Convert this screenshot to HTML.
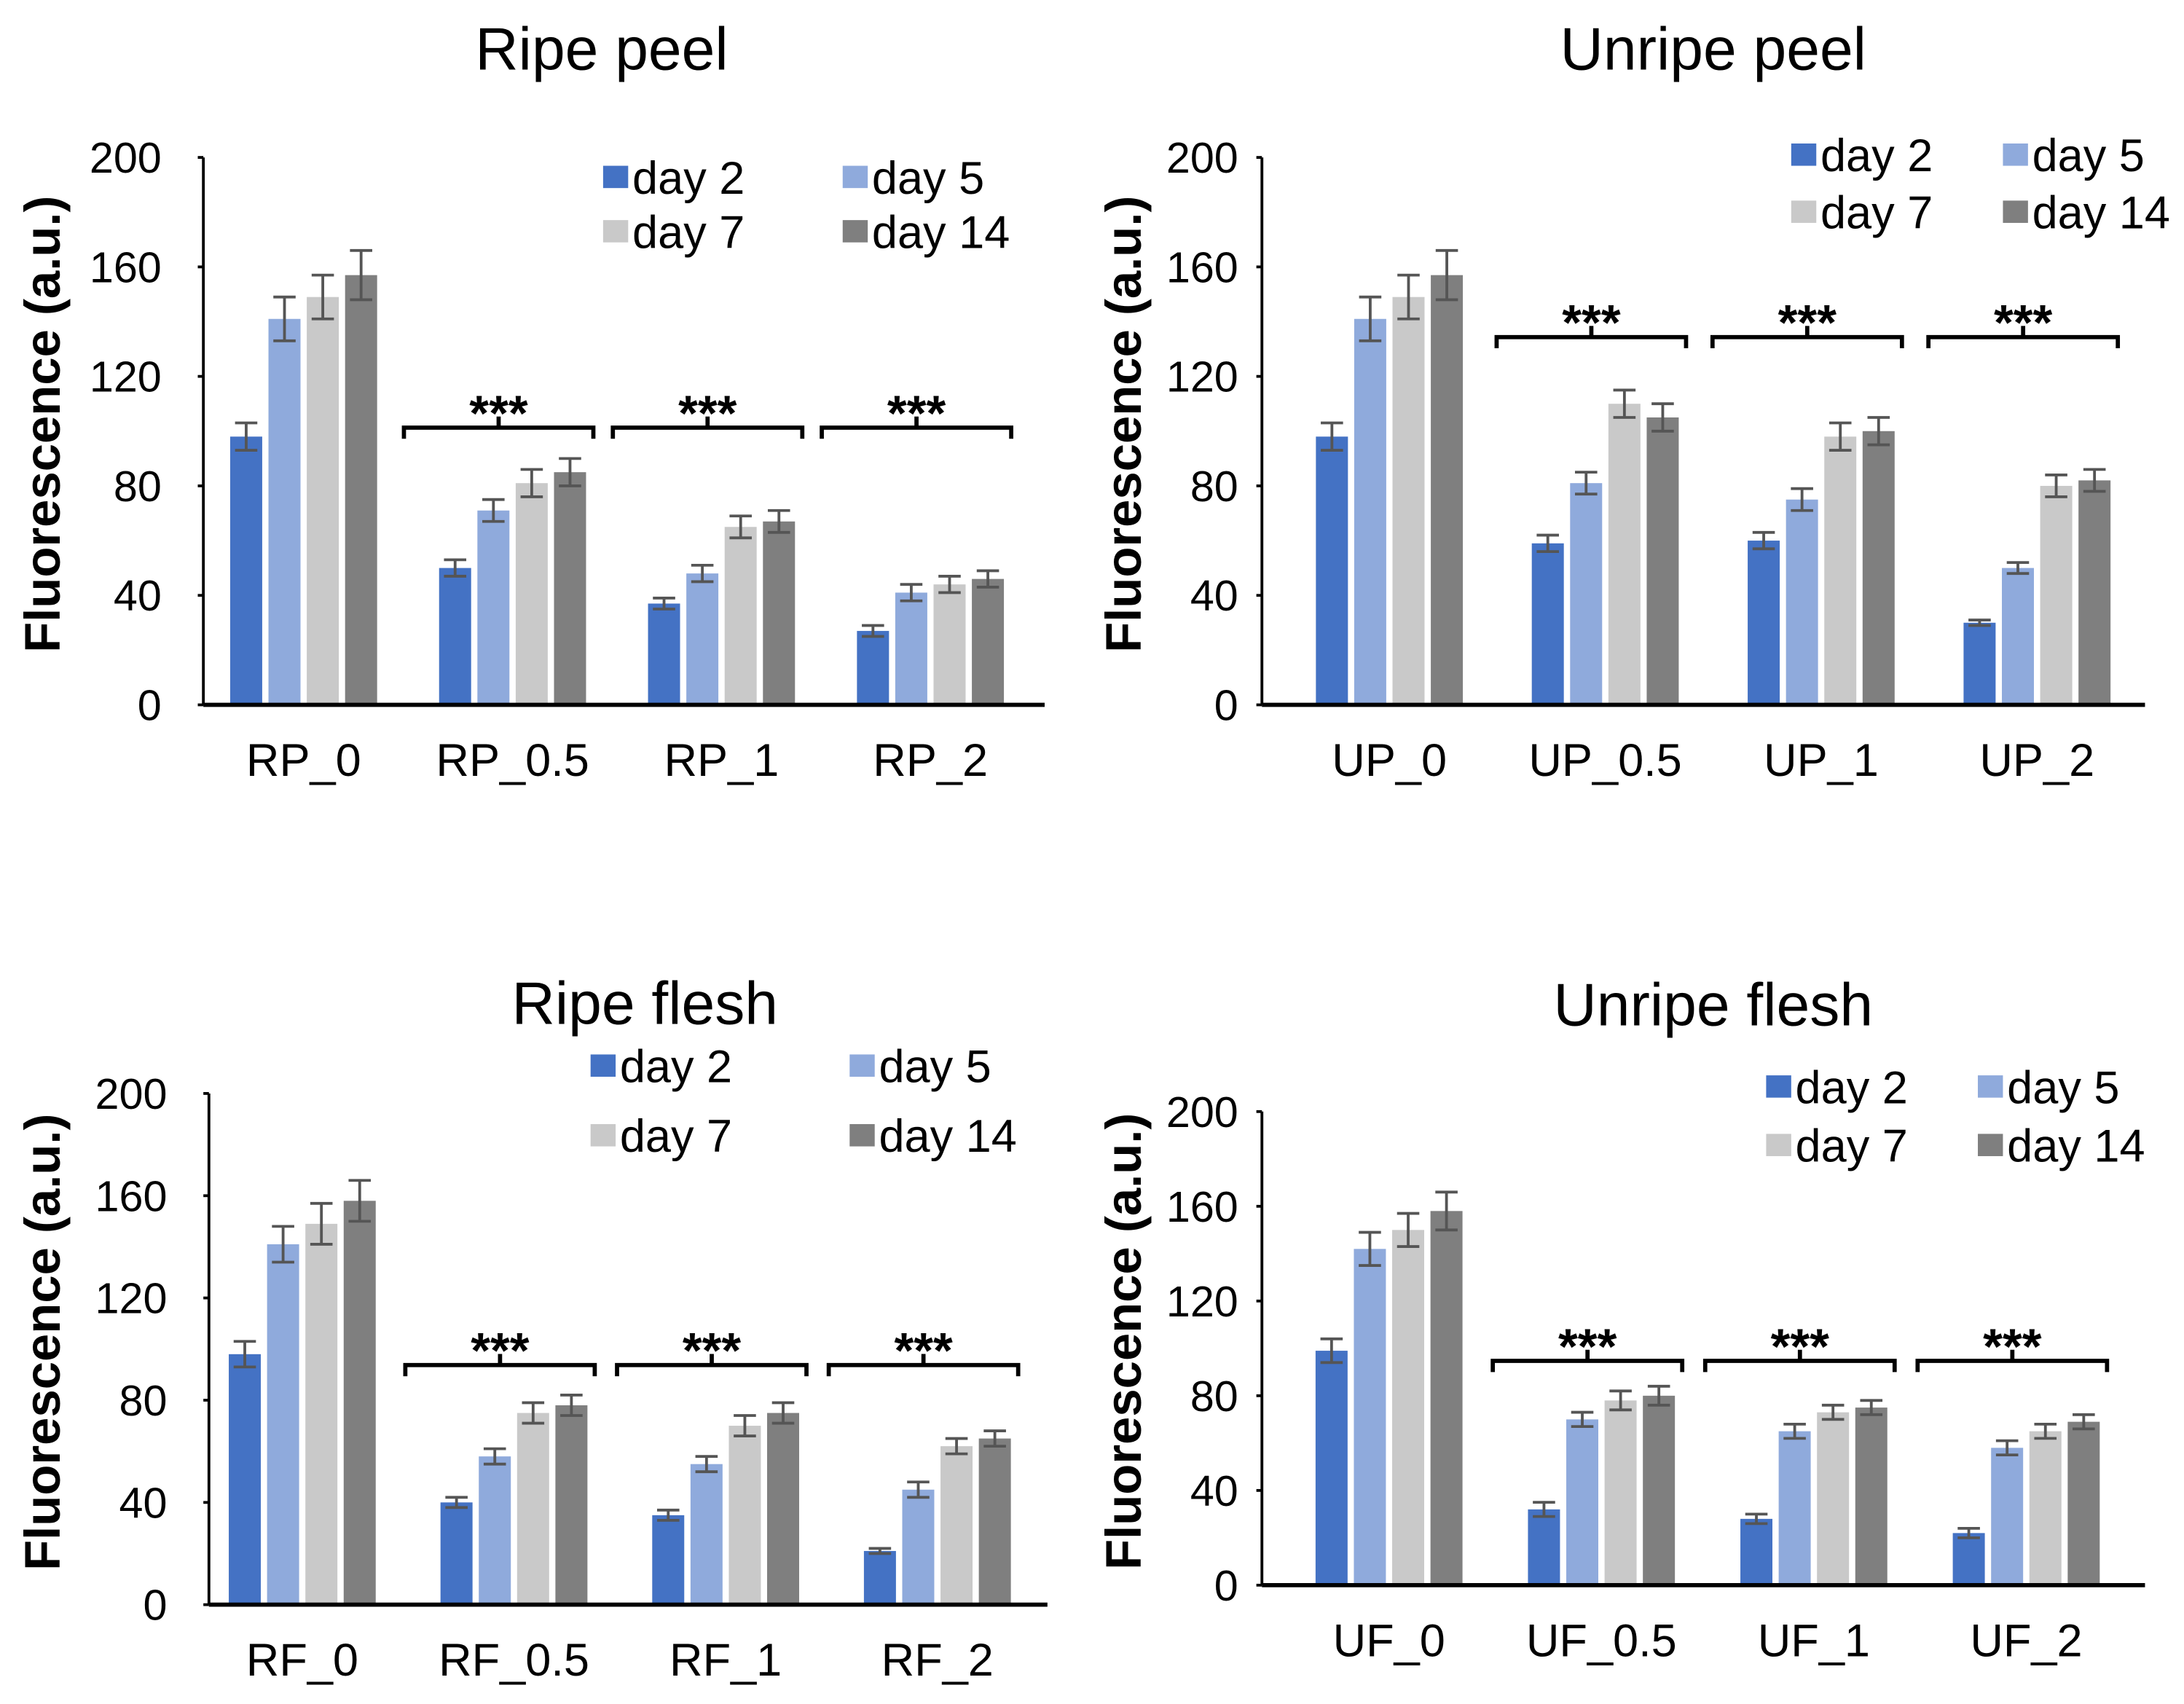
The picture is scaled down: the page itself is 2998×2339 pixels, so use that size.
<!DOCTYPE html>
<html><head><meta charset="utf-8"><style>
html,body{margin:0;padding:0;background:#fff;}
svg{display:block;font-family:"Liberation Sans",Arial,sans-serif;}
</style></head><body>
<svg id="chart" width="2998" height="2339" viewBox="0 0 1568 1223.3" xmlns="http://www.w3.org/2000/svg"></svg>
<script>
const seriesNames = ["day 2","day 5","day 7","day 14"];
const colors = ["#4472C4","#8FAADC","#C9C9C9","#7F7F7F"];
const yTicks = [0,40,80,120,160,200];
const rpCats = ["RP_0","RP_0.5","RP_1","RP_2"];
const rpVals = [[98,141,149,157],[50,71,81,85],[37,48,65,67],[27,41,44,46]];
const rpErr = [[5,8,8,9],[3,4,5,5],[2,3,4,4],[2,3,3,3]];
const upCats = ["UP_0","UP_0.5","UP_1","UP_2"];
const upVals = [[98,141,149,157],[59,81,110,105],[60,75,98,100],[30,50,80,82]];
const upErr = [[5,8,8,9],[3,4,5,5],[3,4,5,5],[1,2,4,4]];
const rfCats = ["RF_0","RF_0.5","RF_1","RF_2"];
const rfVals = [[98,141,149,158],[40,58,75,78],[35,55,70,75],[21,45,62,65]];
const rfErr = [[5,7,8,8],[2,3,4,4],[2,3,4,4],[1,3,3,3]];
const ufCats = ["UF_0","UF_0.5","UF_1","UF_2"];
const ufVals = [[99,142,150,158],[32,70,78,80],[28,65,73,75],[22,58,65,69]];
const ufErr = [[5,7,7,8],[3,3,4,4],[2,3,3,3],[2,3,3,3]];

const NS="http://www.w3.org/2000/svg";
const svg=document.getElementById('chart');
function mk(tag,attrs,parent,text){const e=document.createElementNS(NS,tag);for(const k in attrs)e.setAttribute(k,attrs[k]);if(text!==undefined)e.textContent=text;(parent||svg).appendChild(e);return e;}

const panels=[
 {key:"ripe-peel",title:"Ripe peel",tx:432,ty:50,cats:rpCats,vals:rpVals,err:rpErr,ax:146,axEnd:750,y0:506,y200:113,gs:143,gw:150,brY:307,catY:557,titleX:30,tickOff:30,
  leg:[[442,127],[614,127],[442,166],[614,166]]},
 {key:"unripe-peel",title:"Unripe peel",tx:1230,ty:50,cats:upCats,vals:upVals,err:upErr,ax:906,axEnd:1540,y0:506,y200:113,gs:920,gw:155,brY:242,catY:557,titleX:806,tickOff:17,
  leg:[[1295,111],[1447,111],[1295,152],[1447,152]]},
 {key:"ripe-flesh",title:"Ripe flesh",tx:463,ty:735,cats:rfCats,vals:rfVals,err:rfErr,ax:150,axEnd:752,y0:1152,y200:785,gs:141,gw:152,brY:980,catY:1203,titleX:30,tickOff:30,
  leg:[[433,765],[619,765],[433,815],[619,815]]},
 {key:"unripe-flesh",title:"Unripe flesh",tx:1230,ty:736,cats:ufCats,vals:ufVals,err:ufErr,ax:906,axEnd:1540,y0:1138,y200:798,gs:921,gw:152.5,brY:977,catY:1189,titleX:806,tickOff:17,
  leg:[[1277,780],[1429,780],[1277,822],[1429,822]]}
];

panels.forEach(p=>{
  const g=mk('g',{});
  
  
  const y=v=>p.y0-(v/200)*(p.y0-p.y200);
  const t=mk('text',{x:p.tx,y:p.ty,'text-anchor':'middle','font-size':43,fill:'#000'},g,p.title);
  
  yTicks.forEach(v=>{
    const tl=mk('text',{x:p.ax-p.tickOff,y:y(v)+11,'text-anchor':'end','font-size':31,fill:'#000'},g,String(v));
    
    const tk=mk('line',{x1:p.ax-4,y1:y(v),x2:p.ax,y2:y(v),stroke:'#000','stroke-width':2},g);
    
  });
  const cy=(p.y0+p.y200)/2-5;
  const at=mk('text',{x:p.titleX,y:cy,'text-anchor':'middle','font-size':36,'font-weight':'bold',fill:'#000',transform:`rotate(-90 ${p.titleX} ${cy})`,dy:13},g,"Fluorescence (a.u.)");
  
  const bw=23, step=27.5;
  p.cats.forEach((c,i)=>{
    const cx=p.gs+(i+0.5)*p.gw;
    p.vals[i].forEach((v,s)=>{
      const x=cx+(s-1.5)*step-bw/2;
      const r=mk('rect',{x:x,y:y(v),width:bw,height:p.y0-y(v),fill:colors[s]},g);
      
      
      const e=p.err[i][s], mx=x+bw/2;
      const eb=mk('path',{d:`M${mx} ${y(v+e)}V${y(v-e)}M${mx-8} ${y(v+e)}H${mx+8}M${mx-8} ${y(v-e)}H${mx+8}`,stroke:'#555',fill:'none','stroke-width':2},g);
      
    });
    const cl=mk('text',{x:cx,y:p.catY,'text-anchor':'middle','font-size':33,fill:'#000'},g,c);
    
    if(i>0){
      const bc=cx-10,l=bc-68,rr=bc+68,by=p.brY;
      const br=mk('path',{d:`M${l} ${by+8}V${by}H${rr}V${by+8}M${bc} ${by}V${by-8}`,stroke:'#000',fill:'none','stroke-width':3},g);
      
      const st=mk('text',{x:bc,y:by+2,'text-anchor':'middle','font-size':36,'font-weight':'bold',fill:'#000'},g,"***");
      
    }
  });
  const axl=mk('line',{x1:p.ax,y1:p.y0,x2:p.axEnd,y2:p.y0,stroke:'#000','stroke-width':3},g);
  
  const ayl=mk('line',{x1:p.ax,y1:p.y0,x2:p.ax,y2:p.y200,stroke:'#000','stroke-width':2},g);
  
  seriesNames.forEach((n,s)=>{
    const [lx,ly]=p.leg[s];
    const le=mk('g',{},g);
    
    mk('rect',{x:lx-9,y:ly-8,width:18,height:16,fill:colors[s]},le);
    mk('text',{x:lx+12,y:ly+12,'font-size':33,fill:'#000'},le,n);
  });
});
</script>
</body></html>
